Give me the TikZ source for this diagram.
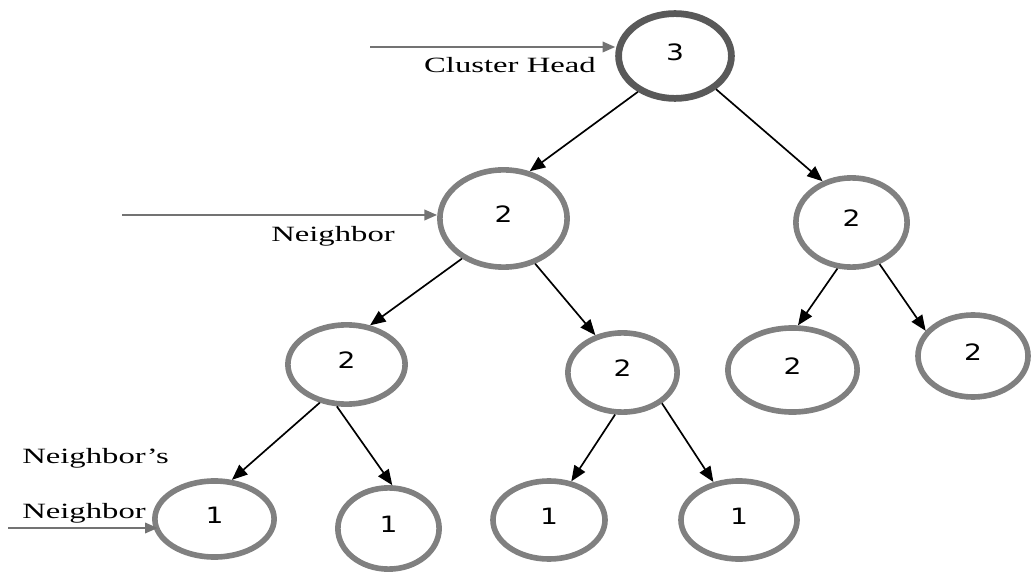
\documentclass[tikz,border=0pt]{standalone}
\usepackage{fontspec}
\newfontfamily\labelfont[FakeStretch=1.5]{Liberation Serif}
\newfontfamily\digitfont[FakeStretch=1.25]{DejaVu Sans}
\usetikzlibrary{shapes.geometric,
				arrows.meta}

\tikzset{
	member/.style={ellipse, draw=gray, line width=4pt, inner sep=0pt,
		font=\digitfont\fontsize{16}{18}\selectfont, text height=12pt, text depth=6pt},
	head/.style={member, draw=black!65, line width=4.8pt},
	oval/.style 2 args={minimum width=#1cm, minimum height=#2cm},
	link/.style={-{Triangle[length=11pt,width=9pt]}, line width=1.2pt},
	pointer/.style={-{Triangle[length=9pt,width=7.5pt]}, draw=black!55, line width=1.4pt},
	tag/.style={font=\labelfont\fontsize{15.5}{18}\selectfont, inner sep=0pt}
}

\begin{document}
\begin{tikzpicture}[x=0.025cm, y=0.025cm]
	\useasboundingbox (0,0) rectangle (1032,573);

	% cluster tree
	\node[head, oval={2.82}{2.12}] (n3) at (675,517) {3};
	\node[member, oval={3.18}{2.43}] (nA) at (503.5,354.5) {2};
	\node[member, oval={2.78}{2.23}] (nB) at (851.5,350.5) {2};
	\node[member, oval={2.93}{1.98}] (nC) at (346.5,208.5) {2};
	\node[member, oval={2.73}{1.98}] (nD) at (622.5,200.5) {2};
	\node[member, oval={3.23}{2.1}] (nE) at (792.5,203) {2};
	\node[member, oval={2.75}{2.05}] (nF) at (973,217) {2};
	\node[member, oval={2.98}{1.9}] (nG) at (214.5,54) {1};
	\node[member, oval={2.53}{2.03}] (nH) at (388.5,44.5) {1};
	\node[member, oval={2.8}{1.95}] (nI) at (549,53) {1};
	\node[member, oval={2.9}{1.95}] (nJ) at (739,53) {1};

	\draw[link] (n3.224) -- (nA.61);
	\draw[link] (n3.321) -- (nB.125);
	\draw[link] (nA.224) -- (nC.59);
	\draw[link] (nA.305) -- (nD.126);
	\draw[link] (nB.253) -- (nE.83);
	\draw[link] (nB.304) -- (nF.152);
	\draw[link] (nC.235) -- (nG.66);
	\draw[link] (nC.257) -- (nH.85);
	\draw[link] (nD.260) -- (nI.60);
	\draw[link] (nD.322) -- (nJ.124);

	% side pointers with their captions
	\coordinate (chFrom) at (370,526);
	\coordinate (nbFrom) at (122,358);
	\coordinate (nnFrom) at (8,45);
	\draw[pointer] (chFrom) -- (chFrom -| n3.west);
	\draw[pointer] (nbFrom) -- (nbFrom -| nA.west);
	\draw[pointer, shorten >=-4pt] (nnFrom) -- (nnFrom -| nG.west);

	\node[tag, anchor=base east] (chText) at (596,500) {Cluster Head};
	\node[tag, anchor=base] (nbText) at (333,331) {Neighbor};
	\node[tag, anchor=base west] (nnTop) at (22,110) {Neighbor’s};
	\node[tag, anchor=base west] (nnBottom) at (22,55) {Neighbor};
\end{tikzpicture}
\end{document}
